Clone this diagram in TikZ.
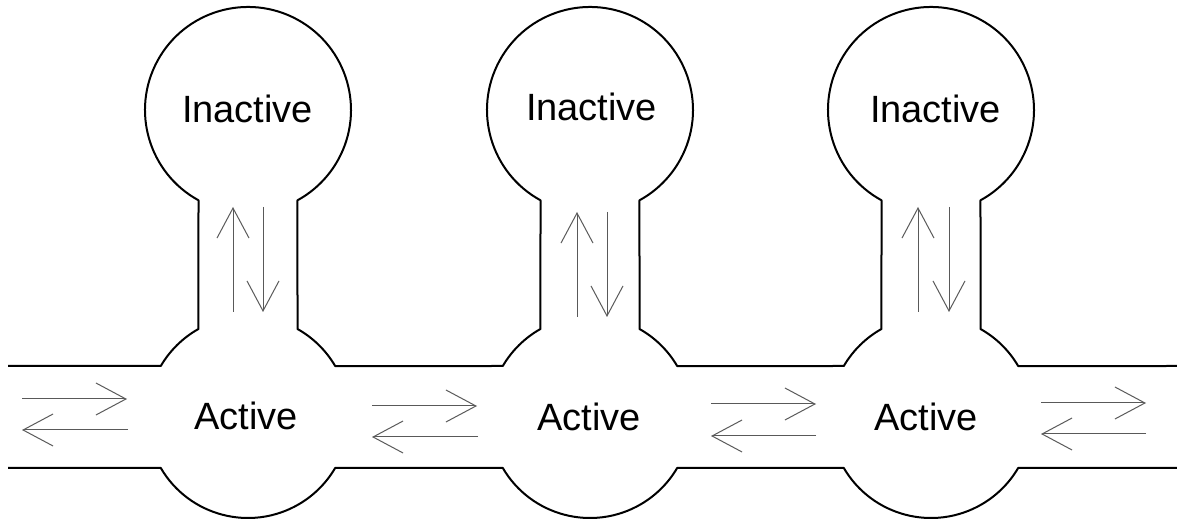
\documentclass[tikz,border=0pt]{standalone}
\usepackage{fontspec}
\setmainfont{Liberation Sans}
\usetikzlibrary{arrows.meta}
\begin{document}
\begin{tikzpicture}[x=0.5pt,y=0.5pt,
  wall/.style={line width=1pt, line join=round},
  flow/.style={draw=black!65, line width=0.5pt, -{Straight Barb[length=15pt,width=16pt,line width=0.5pt]}},
  lbl/.style={font=\fontsize{19}{22}\selectfont, inner sep=0pt}]
\useasboundingbox (0,0) rectangle (1177,519);
% upper wall: channel top, stems and inactive chambers
\draw[wall] (8,153)
  \foreach \c in {248,590,931} {
    -- ({\c-87.2},153)
    arc[start angle=149.67, end angle=119.35, radius=101]
    -- ({\c-49.5},318.7)
    arc[start angle=241.28, end angle=-61.28, radius=103]
    -- ({\c+49.5},190.0)
    arc[start angle=60.65, end angle=30.33, radius=101]
  } -- (1177,153);
% lower wall
\draw[wall] (8,51)
  \foreach \c in {248,590,931} {
    -- ({\c-87.2},51)
    arc[start angle=210.33, end angle=329.67, radius=101]
  } -- (1177,51);
% labels
\node[lbl] (i1) at (247.5,410.5) {Inactive};
\node[lbl] (i2) at (591.5,412.5) {Inactive};
\node[lbl] (i3) at (935.5,410.5) {Inactive};
\node[lbl] (a1) at (246,103.5) {Active};
\node[lbl] (a2) at (589,102) {Active};
\node[lbl] (a3) at (926,102) {Active};
% horizontal exchange arrows
\draw[flow] (22,120) -- (127,120);
\draw[flow] (128,89) -- (22,89);
\draw[flow] (372,113) -- (477,113);
\draw[flow] (478,82) -- (372,82);
\draw[flow] (711,115) -- (816,115);
\draw[flow] (816,83) -- (711,83);
\draw[flow] (1041,116) -- (1146,116);
\draw[flow] (1146,85) -- (1041,85);
% vertical exchange arrows
\draw[flow] (233,207) -- (233,312);
\draw[flow] (263,312) -- (263,207);
\draw[flow] (577,202) -- (577,307);
\draw[flow] (607,307) -- (607,202);
\draw[flow] (918,207) -- (918,312);
\draw[flow] (949,312) -- (949,207);
\end{tikzpicture}
\end{document}
